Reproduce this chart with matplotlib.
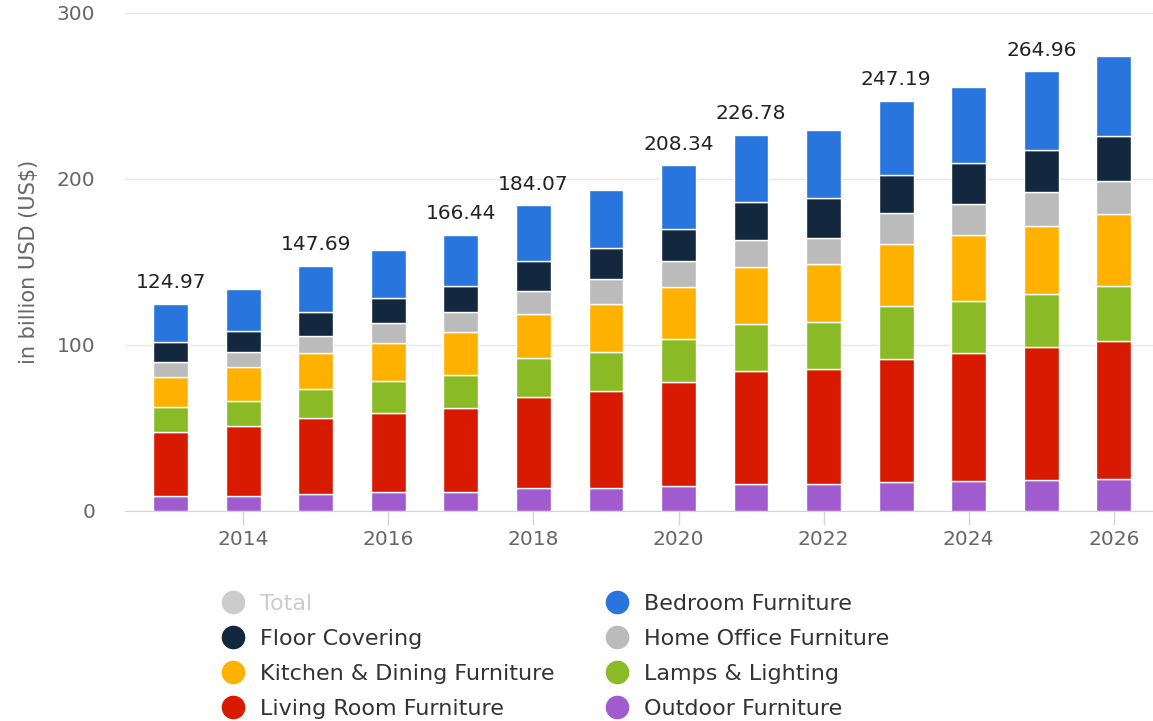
import matplotlib
matplotlib.use("Agg")
import matplotlib.pyplot as plt
from matplotlib.lines import Line2D
import numpy as np

years = np.arange(2013, 2027)

# segments, bottom to top (billion USD)
outdoor = [9.1, 9.1, 10.3, 11.4, 11.2, 13.8, 13.8, 15.2, 16.2, 16.2, 17.2, 18.2, 18.4, 19.4]
living_room = [38.6, 42.0, 45.7, 47.7, 51.1, 54.9, 58.5, 62.7, 68.4, 69.4, 74.4, 77.0, 80.4, 82.8]
lamps = [15.2, 15.2, 17.2, 19.2, 19.9, 23.4, 23.2, 25.6, 28.3, 28.2, 31.8, 31.2, 32.2, 33.6]
kitchen = [17.6, 20.2, 22.1, 22.8, 25.6, 26.6, 29.2, 31.2, 33.8, 34.7, 37.2, 39.7, 40.7, 42.9]
home_office = [9.1, 9.1, 10.4, 11.9, 12.0, 14.0, 15.1, 15.6, 16.5, 16.2, 18.8, 18.7, 20.2, 20.2]
floor_cov = [12.2, 12.7, 14.1, 15.1, 15.6, 17.6, 18.5, 19.8, 22.7, 23.6, 23.0, 24.6, 25.6, 26.7]
bedroom = [23.17, 25.4, 27.89, 29.0, 31.04, 33.77, 34.9, 38.24, 40.88, 41.5, 44.79, 46.2, 47.46, 48.7]

# totals printed above some bars
total_labels = [124.97, None, 147.69, None, 166.44, 184.07, None, 208.34, 226.78,
                None, 247.19, None, 264.96, None]

series = [
    ("Outdoor Furniture", outdoor, "#a05ccf"),
    ("Living Room Furniture", living_room, "#d71a00"),
    ("Lamps & Lighting", lamps, "#8abb26"),
    ("Kitchen & Dining Furniture", kitchen, "#ffb100"),
    ("Home Office Furniture", home_office, "#bbbbbb"),
    ("Floor Covering", floor_cov, "#13283f"),
    ("Bedroom Furniture", bedroom, "#2876dd"),
]
colors = {name: c for name, vals, c in series}

fig = plt.figure(figsize=(11.53, 7.21), dpi=100)
ax = fig.add_axes([0.1084, 0.2913, 0.8916, 0.6907])

bottom = np.zeros(len(years))
for name, vals, c in series:
    ax.bar(years, vals, 0.48, bottom=bottom, color=c, edgecolor="white", linewidth=1, zorder=3)
    bottom += np.array(vals)

for x, top, lab in zip(years, bottom, total_labels):
    if lab is not None:
        ax.annotate(f"{lab:.2f}", (x, top), xytext=(0, 15), textcoords="offset points",
                    ha="center", va="center", fontsize=14.5, color="#222222")

ax.set_xlim(2012.37, 2026.54)
ax.set_ylim(0, 300)
ax.set_yticks([0, 100, 200, 300])
ax.set_xticks(np.arange(2014, 2027, 2))
ax.grid(axis="y", color="#e6e6e6", linewidth=1, zorder=0)
for s in ["top", "right", "left"]:
    ax.spines[s].set_visible(False)
ax.spines["bottom"].set_color("#ccd6eb")
ax.tick_params(axis="y", length=0, pad=21.5, labelsize=14.5, labelcolor="#666666")
ax.tick_params(axis="x", length=10, width=1, color="#ccd6eb", pad=4, labelsize=14.5, labelcolor="#666666")
ax.set_ylabel("in billion USD (US$)", fontsize=15, color="#666666")
ax.yaxis.set_label_coords(-0.0837, 0.5)

def handle(c):
    return Line2D([], [], marker="o", linestyle="", markersize=16, color=c)

col1 = ["Total", "Floor Covering", "Kitchen & Dining Furniture", "Living Room Furniture"]
col2 = ["Bedroom Furniture", "Home Office Furniture", "Lamps & Lighting", "Outdoor Furniture"]
for names, xpos in [(col1, 0.1925), (col2, 0.5256)]:
    hs = [handle(colors.get(n, "#cccccc")) for n in names]
    leg = fig.legend(hs, names, loc="upper left", bbox_to_anchor=(xpos, 0.176), frameon=False,
                     fontsize=16, handlelength=1, handletextpad=0.71, labelspacing=0.67,
                     borderpad=0, borderaxespad=0)
    for t, n in zip(leg.get_texts(), names):
        t.set_color("#cccccc" if n == "Total" else "#333333")

fig.savefig("out.png", dpi=100)
